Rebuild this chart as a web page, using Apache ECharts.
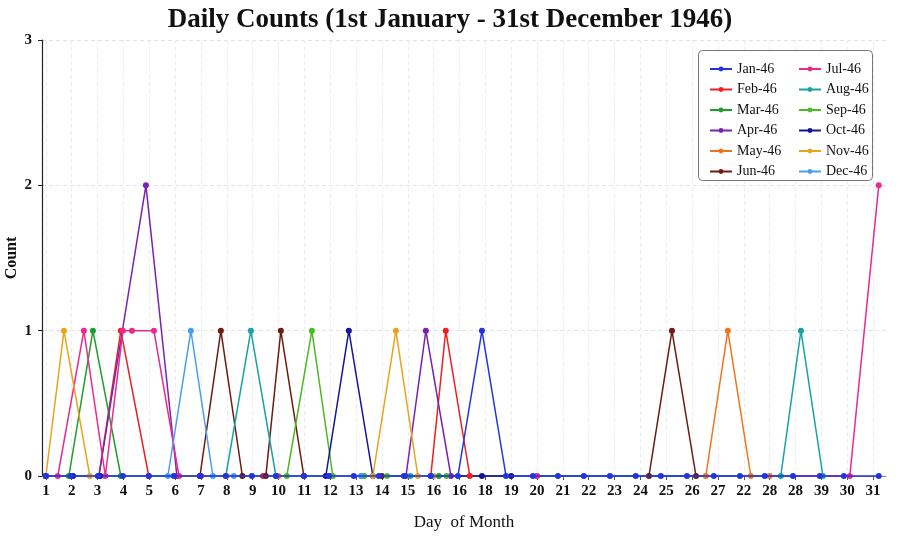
<!DOCTYPE html>
<html>
<head>
<meta charset="utf-8">
<script src="https://cdn.jsdelivr.net/npm/echarts@6/dist/echarts.min.js"></script>
<style>
  html, body { margin: 0; padding: 0; background: #fff; }
  #chart { width: 900px; height: 539px; }
</style>
</head>
<body>
<div id="chart"></div>
<script>
// tick labels along the day axis (as printed)
const tickLabels = ['1', '2', '3', '4', '5', '6', '7', '8', '9', '10', '11', '12', '13', '14', '15', '16',
    '16', '18', '19', '20', '21', '22', '23', '24', '25', '26', '27', '22', '28', '28', '39', '30', '31'];

const months = ['Jan-46', 'Feb-46', 'Mar-46', 'Apr-46', 'May-46', 'Jun-46',
    'Jul-46', 'Aug-46', 'Sep-46', 'Oct-46', 'Nov-46', 'Dec-46'];
const colors = ['#2234e0', '#ec2020', '#1e9e2a', '#7a22b0', '#f0741e', '#6a1c10',
    '#ea2a8e', '#18a2a2', '#4cba22', '#141496', '#e8a41c', '#4a9ef0'];

// [day position, count]
const jan46 = [[1, 0], [1.97, 0], [3.01, 0], [3.98, 0], [4.98, 0], [5.95, 0], [6.96, 0], [7.96, 0], [8.97, 0],
    [9.9, 0], [10.98, 0], [11.95, 0], [12.91, 0], [13.88, 0], [14.85, 0], [15.89, 0], [16.94, 0], [17.87, 1],
    [18.8, 0], [19.84, 0], [20.81, 0], [21.81, 0], [22.82, 0], [23.82, 0], [24.79, 0], [25.8, 0], [26.84, 0],
    [27.85, 0], [28.81, 0], [29.9, 0], [30.94, 0], [31.87, 0], [33.22, 0]];
const feb46 = [[1, 0], [3.05, 0], [3.9, 1], [4.98, 0], [9.4, 0], [15.89, 0], [16.47, 1], [17.4, 0]];
const mar46 = [[1, 0], [1.89, 0], [2.82, 1], [3.9, 0], [6.1, 0], [13.3, 0], [16.2, 0]];
const apr46 = [[1, 0], [3.05, 0], [4.87, 2], [6.07, 0], [7.0, 0], [14.93, 0], [15.7, 1], [16.67, 0]];
const may46 = [[1, 0], [2.0, 0], [10.0, 0], [20.0, 0], [26.53, 0], [27.38, 1], [28.27, 0], [29.0, 0]];
const jun46 = [[1, 0], [6.96, 0], [7.77, 1], [8.6, 0], [9.51, 0], [10.09, 1], [10.98, 0], [14.0, 0],
    [24.33, 0], [25.22, 1], [26.15, 0]];
const jul46 = [[1, 0], [1.46, 0], [2.47, 1], [3.3, 0], [3.98, 1], [4.33, 1], [5.18, 1], [6.15, 0],
    [12.0, 0], [20.0, 0], [32.1, 0], [33.22, 2]];
const aug46 = [[1, 0], [7.96, 0], [8.93, 1], [9.9, 0], [13.2, 0], [15.1, 0], [29.43, 0], [30.21, 1], [31.06, 0]];
const sep46 = [[1, 0], [10.32, 0], [11.29, 1], [12.1, 0], [13.3, 0], [14.2, 0], [16.5, 0]];
const oct46 = [[1, 0], [2.05, 0], [3.1, 0], [11.83, 0], [12.72, 1], [13.65, 0], [17.87, 0], [19.0, 0]];
const nov46 = [[1, 0], [1.7, 1], [2.7, 0], [8.0, 0], [13.65, 0], [14.54, 1], [15.39, 0], [16.0, 0]];
const dec46 = [[1, 0], [5.72, 0], [6.61, 1], [7.46, 0], [8.27, 0], [13.2, 0], [15.9, 0]];

const allData = [jan46, feb46, mar46, apr46, may46, jun46, jul46, aug46, sep46, oct46, nov46, dec46];

const serif = '"Liberation Serif", "DejaVu Serif", serif';

// legend column settings
function legendCol(names, left) {
    return {
        data: names,
        orient: 'vertical',
        left: left,
        top: 57,
        z: 10,
        itemWidth: 22,
        itemHeight: 6,
        itemGap: 6.5,
        textStyle: { fontFamily: serif, fontSize: 14, lineHeight: 14, color: '#111' }
    };
}

const chart = echarts.init(document.getElementById('chart'));
chart.setOption({
    animation: false,
    color: colors,
    title: {
        text: 'Daily Counts (1st January - 31st December 1946)',
        left: 'center',
        top: 2,
        textStyle: { fontFamily: serif, fontSize: 27, fontWeight: 'bold', color: '#111' }
    },
    grid: { left: 42, right: 14, top: 40, bottom: 63, containLabel: false, outerBoundsMode: 'none' },
    legend: [legendCol(months.slice(0, 6), 704), legendCol(months.slice(6), 793)],
    graphic: [{
        type: 'rect',
        left: 698,
        top: 50,
        shape: { width: 174, height: 130, r: 4 },
        style: { fill: '#fff', stroke: '#777', lineWidth: 1 },
        z: 5
    }],
    xAxis: {
        type: 'value',
        min: 0.85,
        max: 33.5,
        name: 'Day  of Month',
        nameLocation: 'middle',
        nameGap: 38,
        nameTextStyle: { fontFamily: serif, fontSize: 17, color: '#111' },
        axisLine: { lineStyle: { color: '#888', width: 1.2 } },
        axisTick: { length: 4, lineStyle: { color: '#555' }, customValues: tickLabels.map((t, i) => i + 1) },
        axisLabel: {
            fontFamily: serif,
            fontSize: 15,
            fontWeight: 'bold',
            color: '#111',
            margin: 8,
            customValues: tickLabels.map((t, i) => i + 1),
            formatter: v => tickLabels[Math.round(v) - 1] || ''
        },
        splitLine: { show: true, lineStyle: { color: '#ebebeb', type: [4, 3] } }
    },
    yAxis: {
        type: 'value',
        min: 0,
        max: 3,
        interval: 1,
        name: 'Count',
        nameLocation: 'middle',
        nameGap: 22,
        nameMoveOverlap: false,
        nameTextStyle: { fontFamily: serif, fontSize: 16, fontWeight: 'bold', color: '#111' },
        axisLine: { show: true, lineStyle: { color: '#222', width: 1.2 } },
        axisTick: { show: true, length: 4, lineStyle: { color: '#222' } },
        axisLabel: { fontFamily: serif, fontSize: 15, fontWeight: 'bold', color: '#111', margin: 10 },
        splitLine: { lineStyle: { color: '#e2e2e2', type: [4, 3] } }
    },
    series: months.map((name, i) => ({
        name: name,
        type: 'line',
        data: allData[i],
        clip: false,
        symbol: 'circle',
        symbolSize: 6,
        z: i === 0 ? 4 : 2,
        lineStyle: { width: 1.5 },
        itemStyle: { color: colors[i] }
    }))
});
</script>
</body>
</html>
